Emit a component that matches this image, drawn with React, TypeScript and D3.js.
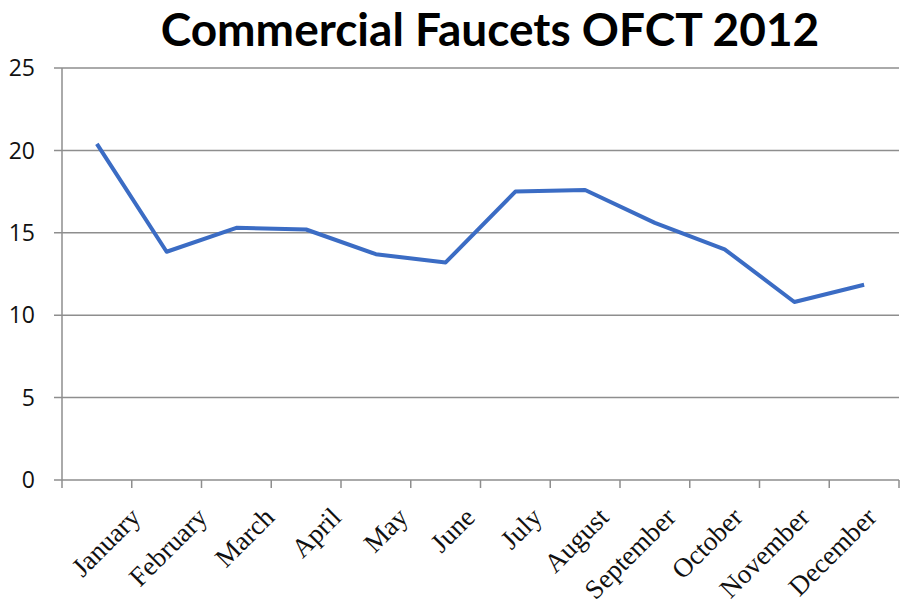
import * as d3 from "d3"
import React from "react"

const months = [
  "January", "February", "March", "April", "May", "June",
  "July", "August", "September", "October", "November", "December",
]
const ofct = [20.4, 13.85, 15.3, 15.2, 13.7, 13.2, 17.5, 17.6, 15.6, 14.0, 10.8, 11.85]
const yTicks = [0, 5, 10, 15, 20, 25]

const title = "Commercial Faucets OFCT 2012"

function App() {
  const width = 907,
    height = 613

  const x = d3.scaleBand().domain(months).range([62, 899])
  const y = d3.scaleLinear().domain([0, 25]).range([480, 68])
  // rotated labels sit on a slightly tighter spacing than the categories
  const labelX = d3.scalePoint().domain(months).range([142, 878])

  const line = d3
    .line<number>()
    .x((d, i) => x(months[i]) + x.bandwidth() / 2)
    .y((d) => y(d))

  const grid = "#8e8e8e"

  return (
    <svg
      width={width}
      height={height}
      style={{ position: "absolute", left: 0, top: 0, background: "#fff" }}
    >
      <text
        x={490}
        y={46}
        textAnchor="middle"
        fontFamily="Lato, 'Open Sans', sans-serif"
        fontWeight="bold"
        fontSize={46}
        fill="#000"
      >
        {title}
      </text>

      {yTicks.map((t) => (
        <g key={t}>
          <line x1={54} x2={899} y1={y(t)} y2={y(t)} stroke={grid} strokeWidth={1.5} />
          <text
            x={35}
            y={y(t)}
            dy="0.36em"
            textAnchor="end"
            fontFamily="'Open Sans', sans-serif"
            fontSize={23}
            fill="#111"
          >
            {t}
          </text>
        </g>
      ))}

      <line x1={62} x2={62} y1={68} y2={488} stroke={grid} strokeWidth={1.5} />
      {months.map((m) => (
        <line
          key={m}
          x1={(x(m) as number) + x.bandwidth()}
          x2={(x(m) as number) + x.bandwidth()}
          y1={480}
          y2={488}
          stroke={grid}
          strokeWidth={1.5}
        />
      ))}

      <path
        d={line(ofct) ?? ""}
        fill="none"
        stroke="#3b6cc4"
        strokeWidth={4}
        strokeLinejoin="round"
      />

      {months.map((m) => (
        <text
          key={m}
          transform={`translate(${labelX(m)},519) rotate(-45)`}
          textAnchor="end"
          fontFamily="'Liberation Serif', serif"
          fontSize={27}
          fill="#111"
        >
          {m}
        </text>
      ))}
    </svg>
  )
}

export default App
